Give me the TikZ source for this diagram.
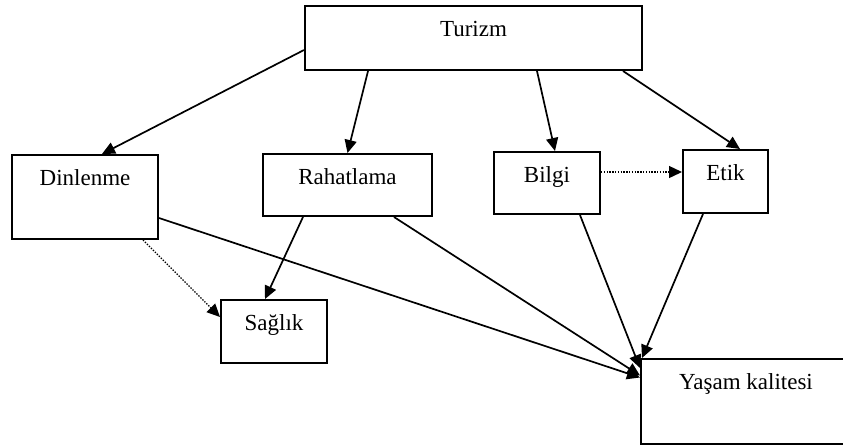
\documentclass[tikz,border=0pt]{standalone}
\usepackage{fontspec}
\setmainfont{Liberation Serif}
\usetikzlibrary{arrows.meta, positioning}

\begin{document}
\begin{tikzpicture}[x=0.5pt, y=-0.5pt,
    box/.style={draw, line width=1pt, inner sep=0pt},
    txt/.style={font=\fontsize{11.5}{13}\selectfont, inner sep=0pt, anchor=base},
    arr/.style={-{Triangle[length=6.5pt,width=6pt]}, line width=0.85pt},
    dot/.style={-{Triangle[length=6.5pt,width=6pt]}, line width=0.7pt, dash pattern=on 0.7pt off 0.7pt}]
            \useasboundingbox (0,0) rectangle (843,446);
            \clip (0,0) rectangle (843,446);

            % Boxes
            \node[box, minimum width=168.5pt, minimum height=32pt] (tur) at (473.5,38) {};
            \node[txt] (turT) at ([yshift=-15.5pt]tur.north) {Turizm};

            \node[box, minimum width=73pt, minimum height=42pt] (din) at (85,197) {};
            \node[txt] (dinT) at ([yshift=-15.5pt]din.north) {Dinlenme};

            \node[box, minimum width=84.5pt, minimum height=31pt] (rah) at (347.5,185) {};
            \node[txt] (rahT) at ([yshift=-15.5pt]rah.north) {Rahatlama};

            \node[box, minimum width=53pt, minimum height=31pt] (bil) at (547,183) {};
            \node[txt] (bilT) at ([yshift=-15.5pt]bil.north) {Bilgi};

            \node[box, minimum width=42.5pt, minimum height=31.5pt] (etk) at (725.5,181.5) {};
            \node[txt] (etkT) at ([yshift=-15.5pt]etk.north) {Etik};

            \node[box, minimum width=53pt, minimum height=31.5pt] (sag) at (274,331.5) {};
            \node[txt] (sagT) at ([yshift=-15.5pt]sag.north) {Sağlık};

            \node[box, minimum width=105pt, minimum height=42.5pt] (yas) at (746,401.5) {};
            \node[txt] (yasT) at ([yshift=-15.5pt]yas.north) {Yaşam kalitesi};

            % Turizm to the second row
            \draw[arr] ([yshift=-6pt]tur.west) -- ([xshift=8.5pt]din.north);
            \draw[arr] ([xshift=-52.75pt]tur.south) -- (rah.north);
            \draw[arr] ([xshift=31.75pt]tur.south) -- ([xshift=4pt]bil.north);
            \draw[arr] ([xshift=-10pt]tur.south east) -- ([xshift=7.25pt]etk.north);

            % Dotted links
            \draw[dot] ([yshift=5.5pt]bil.east) -- ([yshift=4.75pt]etk.west);
            \draw[dot] ([xshift=-8pt]din.south east) -- ([yshift=7.25pt]sag.west);

            % Rahatlama to Sağlık
            \draw[arr] ([xshift=-22.25pt]rah.south) -- ([xshift=-4.5pt]sag.north);

            % Everything to Yaşam kalitesi
            \draw[arr] ([yshift=-10.5pt]din.east) -- ([yshift=12pt]yas.west);
            \draw[arr] ([xshift=-19.5pt]rah.south east) -- ([yshift=13pt]yas.west);
            \draw[arr] ([xshift=16.5pt]bil.south) -- ([yshift=-5pt]yas.north west);
            \draw[arr] ([xshift=-11.25pt]etk.south) -- ([xshift=1pt]yas.north west);
        \end{tikzpicture}
\end{document}
